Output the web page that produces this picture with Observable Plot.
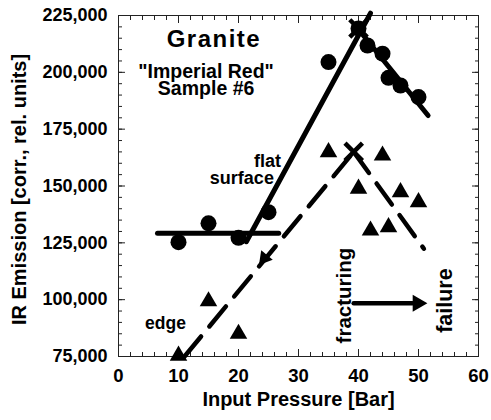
<!DOCTYPE html>
<html><head><meta charset="utf-8">
<script src="https://cdn.jsdelivr.net/npm/d3@7"></script>
<script src="https://cdn.jsdelivr.net/npm/@observablehq/plot@0.6"></script>
<style>body{margin:0;background:#fff}</style>
</head><body><div id="chart"></div>
<script>
// flat surface (circles)
const flatPressure = [10, 15, 20, 25, 35, 40, 41.5, 44, 45, 47, 50];
const flatEmission = [125300, 133600, 127200, 138500, 204500, 219300, 211800, 208200, 197600, 194200, 189100];
// edge (triangles)
const edgePressure = [10, 15, 20, 35, 40, 42, 44, 45, 47, 50];
const edgeEmission = [75400, 99300, 85000, 164900, 148800, 130400, 163400, 131900, 147300, 142900];
// fitted lines
const flatBaseP = [6.5, 26.7], flatBaseE = [129200, 129200];
const flatRiseP = [21.3, 42], flatRiseE = [125500, 226000];
const flatFallP = [39.5, 51.6], flatFallE = [220500, 181000];
const edgeRiseP = [11, 39.2], edgeRiseE = [75000, 165000];
const edgeFallP = [39.2, 50.9], edgeFallE = [165000, 122400];
// peaks (X markers)
const peakP = [40, 39.2], peakE = [219300, 165000];
// ticks
const xTicks = [0, 10, 20, 30, 40, 50, 60];
const xMinor = [0, 2, 4, 6, 8, 10, 12, 14, 16, 18, 20, 22, 24, 26, 28, 30, 32, 34, 36, 38, 40, 42, 44, 46, 48, 50, 52, 54, 56, 58, 60];
const yTicks = [75000, 100000, 125000, 150000, 175000, 200000, 225000];
const yMinor = [75000, 80000, 85000, 90000, 95000, 100000, 105000, 110000, 115000, 120000, 125000, 130000, 135000, 140000, 145000, 150000, 155000, 160000, 165000, 170000, 175000, 180000, 185000, 190000, 195000, 200000, 205000, 210000, 215000, 220000, 225000];

const rows = (xs, ys) => xs.map((x, i) => ({x, y: ys[i]}));

const tickAxes = [];
for (const [ticks, size] of [[xMinor, -4], [xTicks, -7]]) {
  tickAxes.push(Plot.axisX({anchor: "bottom", ticks, tickSize: size, fill: "none", label: null, stroke: "#222"}));
  tickAxes.push(Plot.axisX({anchor: "top", ticks, tickSize: size, fill: "none", label: null, stroke: "#222"}));
}
for (const [ticks, size] of [[yMinor, -4], [yTicks, -7]]) {
  tickAxes.push(Plot.axisY({anchor: "left", ticks, tickSize: size, fill: "none", label: null, stroke: "#222"}));
  tickAxes.push(Plot.axisY({anchor: "right", ticks, tickSize: size, fill: "none", label: null, stroke: "#222"}));
}

const chart = Plot.plot({
  width: 491, height: 420,
  marginLeft: 118, marginRight: 13, marginTop: 15, marginBottom: 64,
  style: {fontFamily: "'Liberation Sans', Arial, sans-serif", fontWeight: "bold", fontSize: "18px", color: "#000", background: "#fff"},
  x: {domain: [0, 60]},
  y: {domain: [75000, 225000]},
  marks: [
    Plot.frame({stroke: "#222"}),
    ...tickAxes,
    Plot.axisX({anchor: "bottom", ticks: xTicks, tickSize: 0, tickPadding: 12, label: null, fontSize: 18.5}),
    Plot.axisY({anchor: "left", ticks: yTicks, tickSize: 0, tickPadding: 11, label: null, tickFormat: d3.format(","), fontSize: 18}),
    Plot.text(["Input Pressure [Bar]"], {frameAnchor: "bottom", dy: 49.5, fontSize: 20}),
    Plot.text(["IR Emission [corr., rel. units]"], {frameAnchor: "left", textAnchor: "middle", dx: -99, dy: 3.5, rotate: -90, fontSize: 20}),
    // fitted lines
    Plot.line(rows(flatBaseP, flatBaseE), {x: "x", y: "y", strokeWidth: 5}),
    Plot.line(rows(flatRiseP, flatRiseE), {x: "x", y: "y", strokeWidth: 5}),
    Plot.line(rows(flatFallP, flatFallE), {x: "x", y: "y", strokeWidth: 5}),
    Plot.line(rows(edgeRiseP, edgeRiseE), {x: "x", y: "y", strokeWidth: 4.5, strokeDasharray: "26,13"}),
    Plot.line(rows(edgeFallP, edgeFallE), {x: "x", y: "y", strokeWidth: 4.5, strokeDasharray: "26,13"}),
    // data points
    Plot.dot(rows(flatPressure, flatEmission), {x: "x", y: "y", r: 8, fill: "#000"}),
    Plot.dot(rows(edgePressure, edgeEmission), {x: "x", y: "y", r: 6.5, symbol: "triangle", fill: "#000"}),
    Plot.dot(rows(peakP, peakE), {x: "x", y: "y", r: 8, symbol: "times", stroke: "#000", strokeWidth: 4.5}),
    // arrowhead on the edge line
    Plot.dot([0], {x: 24.3, y: 118200, r: 5.5, symbol: "triangle", rotate: 219, fill: "#000"}),
    // fracturing -> failure arrow
    Plot.line(rows([39.2, 49], [98400, 98400]), {x: "x", y: "y", strokeWidth: 4.5}),
    Plot.dot([0], {x: 49.85, y: 98400, r: 6.3, symbol: "triangle", rotate: 90, fill: "#000"}),
    // annotations
    Plot.text(["Granite"], {x: 15.9, y: 214440, fontSize: 24}),
    Plot.text(["\"Imperial Red\"\nSample #6"], {x: 14.6, y: 196230, fontSize: 19.5, lineHeight: 0.86}),
    Plot.text(["flat"], {x: 27.1, y: 160800, textAnchor: "end", fontSize: 18}),
    Plot.text(["surface"], {x: 25.9, y: 153500, textAnchor: "end", fontSize: 18}),
    Plot.text(["edge"], {x: 7.83, y: 89600, fontSize: 17.5}),
    Plot.text(["fracturing"], {x: 37.6, y: 101800, rotate: -90, fontSize: 20.5}),
    Plot.text(["failure"], {x: 54.5, y: 99600, rotate: -90, fontSize: 21.5})
  ]
});
for (const t of chart.querySelectorAll("text")) {
  if (t.textContent === "Granite") t.setAttribute("letter-spacing", "1.5");
}
document.getElementById("chart").append(chart);
</script>
</body></html>
